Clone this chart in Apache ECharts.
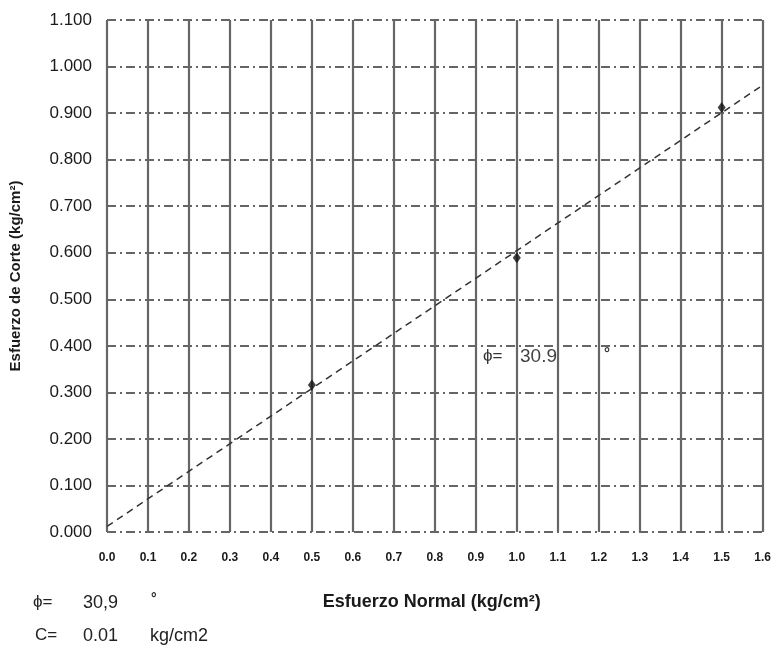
<!DOCTYPE html>
<html>
<head>
<meta charset="utf-8">
<script src="https://cdn.jsdelivr.net/npm/echarts@6/dist/echarts.min.js"></script>
<style>
  html, body { margin: 0; padding: 0; background: #fff; }
  #Chart { width: 774px; height: 651px; }
</style>
</head>
<body>
<div id="Chart"></div>
<script>
// ensayos de corte directo (esfuerzo normal vs esfuerzo de corte)
var normalStress = [0.5, 1.0, 1.5];
var shearStress = [0.316, 0.589, 0.912];
// recta de ajuste (inicio y fin)
var fitX = [0.0, 1.6];
var fitY = [0.012, 0.960];
var phiText = '30,9';
var phiPlotText = '30.9';
var cohesionText = '0.01';

var chart = echarts.init(document.getElementById('Chart'));
var font = 'Liberation Sans, Arial, sans-serif';

var pts = normalStress.map(function (x, i) { return [x, shearStress[i]]; });
var fit = fitX.map(function (x, i) { return [x, fitY[i]]; });

var option = {
  backgroundColor: '#ffffff',
  animation: false,
  grid: { left: 107, top: 20, right: 11, bottom: 119 },
  xAxis: {
    type: 'value',
    min: 0, max: 1.6, interval: 0.1,
    name: 'Esfuerzo Normal (kg/cm²)',
    nameLocation: 'middle',
    nameGap: 61,
    nameTextStyle: { color: '#1a1a1a', fontSize: 18, fontWeight: 'bold', fontFamily: font, padding: [0, 0, 0, -6] },
    axisLine: { show: false },
    axisTick: { show: false },
    axisLabel: {
      margin: 20, color: '#1a1a1a', fontSize: 12, fontWeight: 'bold', fontFamily: font,
      formatter: function (v) { return v.toFixed(1); }
    },
    splitLine: { show: true, lineStyle: { color: '#666', width: 2.2, type: 'solid' } }
  },
  yAxis: {
    type: 'value',
    min: 0, max: 1.1, interval: 0.1,
    name: 'Esfuerzo de Corte (kg/cm²)',
    nameLocation: 'middle',
    nameGap: 84,
    nameTextStyle: { color: '#1a1a1a', fontSize: 15, fontWeight: 'bold', fontFamily: font },
    axisLine: { show: false },
    axisTick: { show: false },
    axisLabel: {
      margin: 15, color: '#1a1a1a', fontSize: 17, fontFamily: font,
      formatter: function (v) { return v.toFixed(3); }
    },
    splitLine: { show: true, lineStyle: { color: '#333', width: 1.5, type: [9, 4, 2, 4] } }
  },
  series: [
    {
      name: 'ajuste',
      type: 'line',
      data: fit,
      showSymbol: false,
      lineStyle: { color: '#333', width: 1.5, type: [7, 5] },
      z: 3
    },
    {
      name: 'ensayos',
      type: 'scatter',
      data: pts,
      symbol: 'diamond',
      symbolSize: [8, 11],
      itemStyle: { color: '#111' },
      z: 4
    }
  ],
  graphic: [
    { type: 'text', left: 483, top: 348, style: { text: 'ϕ=', fill: '#333', font: '17px ' + font } },
    { type: 'text', left: 520, top: 347, style: { text: phiPlotText, fill: '#444', font: '19px ' + font } },
    { type: 'text', left: 604, top: 346, style: { text: '°', fill: '#333', font: 'bold 15px ' + font } },
    { type: 'text', left: 33, top: 594, style: { text: 'ϕ=', fill: '#222', font: '17px ' + font } },
    { type: 'text', left: 83, top: 594, style: { text: phiText, fill: '#222', font: '18px ' + font } },
    { type: 'text', left: 151, top: 592, style: { text: '°', fill: '#222', font: 'bold 14px ' + font } },
    { type: 'text', left: 35, top: 627, style: { text: 'C=', fill: '#222', font: '17px ' + font } },
    { type: 'text', left: 83, top: 627, style: { text: cohesionText, fill: '#222', font: '18px ' + font } },
    { type: 'text', left: 150, top: 627, style: { text: 'kg/cm2', fill: '#222', font: '18px ' + font } }
  ]
};
chart.setOption(option);
</script>
</body>
</html>
